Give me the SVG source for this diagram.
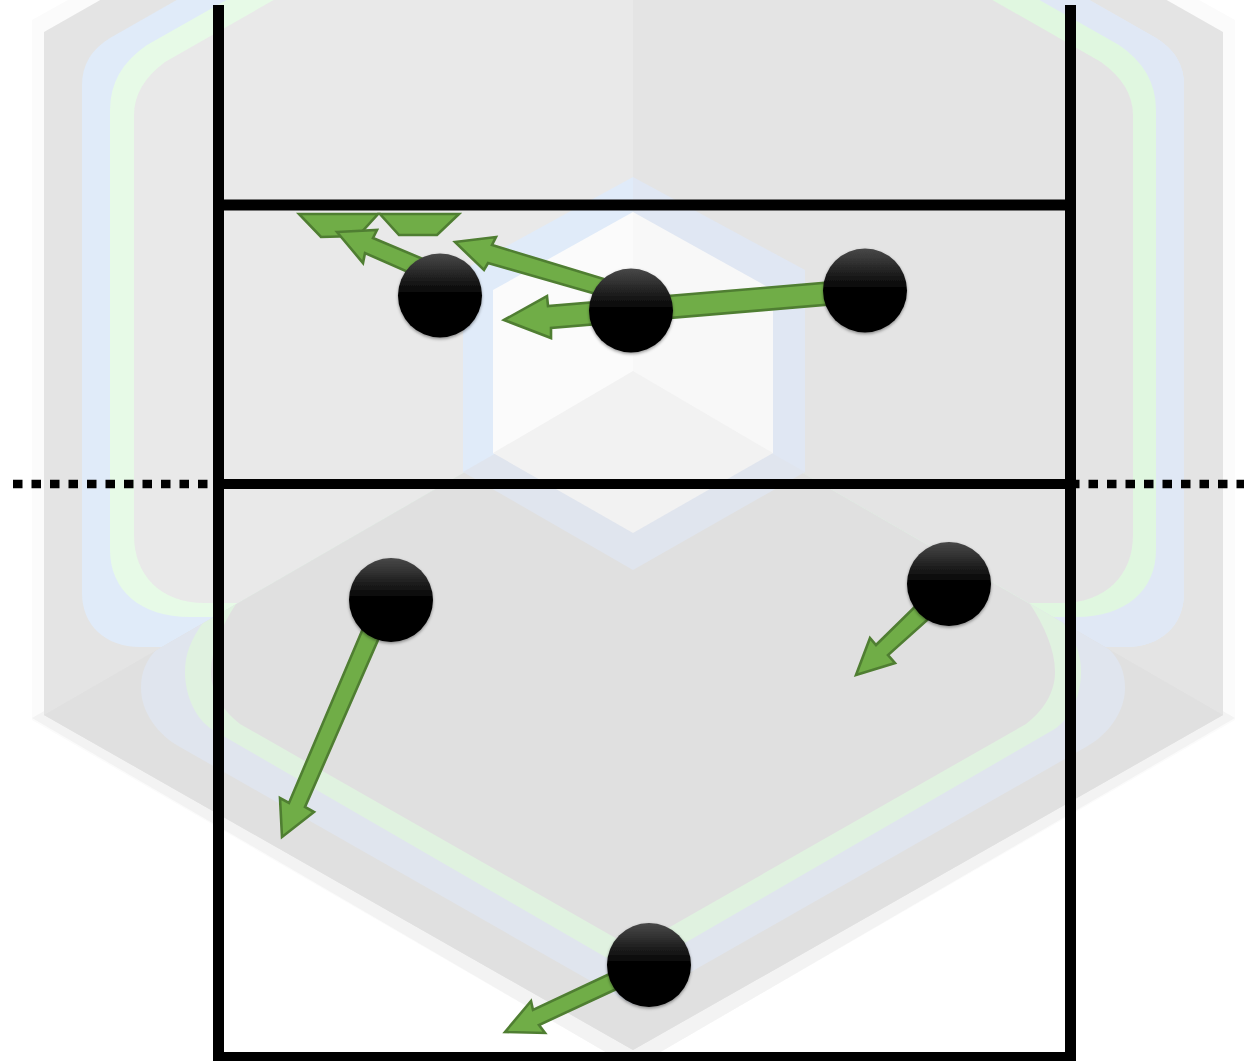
<svg xmlns="http://www.w3.org/2000/svg" width="1244" height="1061" viewBox="0 0 1244 1061">
<defs>
<linearGradient id="ballFill" x1="0" y1="0" x2="0" y2="1"><stop offset="0" stop-color="#484848"/><stop offset="0.12" stop-color="#383838"/><stop offset="0.5" stop-color="#000"/><stop offset="1" stop-color="#000"/></linearGradient>
<filter id="shadow" filterUnits="userSpaceOnUse" x="0" y="0" width="1244" height="1061"><feGaussianBlur in="SourceGraphic" stdDeviation="0.6" result="b"/><feDropShadow in="b" dx="0" dy="1.500" stdDeviation="1.800" flood-color="#000" flood-opacity="0.4"/></filter>
<filter id="soft" filterUnits="userSpaceOnUse" x="0" y="0" width="1244" height="1061"><feGaussianBlur stdDeviation="0.6"/></filter>
<clipPath id="below"><polygon points="44,715 633,375 1223,715 633,1050"/></clipPath>
<clipPath id="right"><rect x="633" y="0" width="611" height="1061"/></clipPath>
<path id="ringBlue" d="M82,85 Q82,55 110,38 L633,-260 L1156,38 Q1184,55 1184,85 V593 C1184,625 1161,647 1126,647 H140 C105,647 82,625 82,593 Z"/>
<path id="ringGreen" d="M110,110 Q110,70 147,45 L633,-230 L1119,45 Q1156,70 1156,110 V550 C1156,590 1126,617 1076,617 H190 C140,617 110,590 110,550 Z"/>
<path id="ringInner" d="M134,115 Q134,85 165,62 L633,-205 L1101,62 Q1133,85 1133,115 V535 C1133,575 1106,603 1061,603 H205 C160,603 134,575 134,535 Z"/>
<polygon id="hexBlue" points="463,270 633,177 805,270 805,472 633,570 463,472"/>
<polygon id="hexWhite" points="493,290 633,212 773,290 773,453 633,533 493,453"/>
</defs>
<style>
.arrow{fill:#70ad47;stroke:#507e32;stroke-width:2.600;stroke-linejoin:miter}
.bar{fill:#000}
.ball{fill:url(#ballFill);filter:url(#shadow)}
</style>
<rect width="1244" height="1061" fill="#fff"/>
<g id="watermark" filter="url(#soft)">
<polygon points="32,20 633,-315 1235,20 1235,720 633,1068 32,720" fill="#fbfbfb"/>
<polygon points="32,718 633,375 1235,718 633,1068" fill="#f3f3f3"/>
<polygon points="44,32 633,-303 1223,32 1223,715 633,1050 44,715" fill="#e4e4e4"/>
<use href="#ringBlue" fill="#e0ebf9"/>
<use href="#ringGreen" fill="#e7fae7"/>
<use href="#ringInner" fill="#e9e9e9"/>
<use href="#hexBlue" fill="#e0ebf9"/>
<use href="#hexWhite" fill="#fbfbfb"/>
<g clip-path="url(#right)">
<use href="#ringBlue" fill="#e0e8f5"/>
<use href="#ringGreen" fill="#e0f7e0"/>
<use href="#ringInner" fill="#e4e4e4"/>
<use href="#hexBlue" fill="#e0e7f3"/>
<use href="#hexWhite" fill="#f8f8f8"/>
</g>
<polygon points="44,715 633,375 1223,715 633,1050" fill="#e0e0e0"/>
<g clip-path="url(#below)">
<path d="M158,648 C146,660 141,672 141,688 C141,712 158,735 180,747 L633,1005 L1086,747 C1108,735 1125,712 1125,688 C1125,672 1120,660 1108,648 L633,375 Z" fill="#e0e5ee"/>
<path d="M205,620 C190,640 185,655 185,672 C185,696 196,720 213,730 L633,973 L1053,730 C1070,720 1081,696 1081,672 C1081,655 1076,640 1061,620 L633,375 Z" fill="#e0f2e0"/>
<path d="M236,604 C222,625 211,650 211,672 C211,692 222,710 240,724 L633,948 L1026,724 C1044,710 1055,692 1055,672 C1055,650 1044,625 1030,604 L633,375 Z" fill="#e0e0e0"/>
</g>
<polygon points="463,472 633,375 805,472 633,570" fill="#e0e5ee"/>
<polygon points="493,453 633,371 773,453 633,533" fill="#f2f2f2"/>
</g>
<g id="connectors" filter="url(#soft)">
<polygon class="arrow" points="299,214 378,214 358,236 321,237"/>
<polygon class="arrow" points="380,214 459,214 437,235 399,235"/>
<polygon class="arrow" points="337,232 377,230 373,238 430,262 417,276 365,253 363,263"/>
<polygon class="arrow" points="455,242 496,237 492,245 620,284 610,298 488,263 484,270"/>
<polygon class="arrow" points="504,320 547,296 548,306 835,282 835,304 551,328 551,338"/>
<polygon class="arrow" points="282,837 280,798 289,803 370,612 388,617 305,807 314,812"/>
<polygon class="arrow" points="856,675 870,638 876,645 931,591 945,604 888,655 895,663"/>
<polygon class="arrow" points="505,1032 531,1001 533,1010 618,970 625,985 539,1025 545,1033"/>
</g>
<g id="court" filter="url(#soft)">
<rect class="bar" x="213" y="5" width="11" height="1056"/>
<rect class="bar" x="1065" y="5" width="11" height="1056"/>
<rect class="bar" x="213" y="199.500" width="863" height="11"/>
<rect class="bar" x="213" y="479" width="863" height="10"/>
<rect class="bar" x="213" y="1052" width="863" height="9"/>
<path d="M13,484 H208 M1070,484 H1244" fill="none" stroke="#000" stroke-width="8.500" stroke-dasharray="9.500 9"/>
</g>
<g id="ball-1"><circle class="ball" cx="440" cy="295.500" r="42"/></g>
<g id="ball-2"><circle class="ball" cx="631" cy="310.500" r="42"/></g>
<g id="ball-3"><circle class="ball" cx="865" cy="290.500" r="42"/></g>
<g id="ball-4"><circle class="ball" cx="391" cy="600" r="42"/></g>
<g id="ball-5"><circle class="ball" cx="949" cy="584" r="42"/></g>
<g id="ball-6"><circle class="ball" cx="649" cy="965" r="42"/></g>
</svg>
